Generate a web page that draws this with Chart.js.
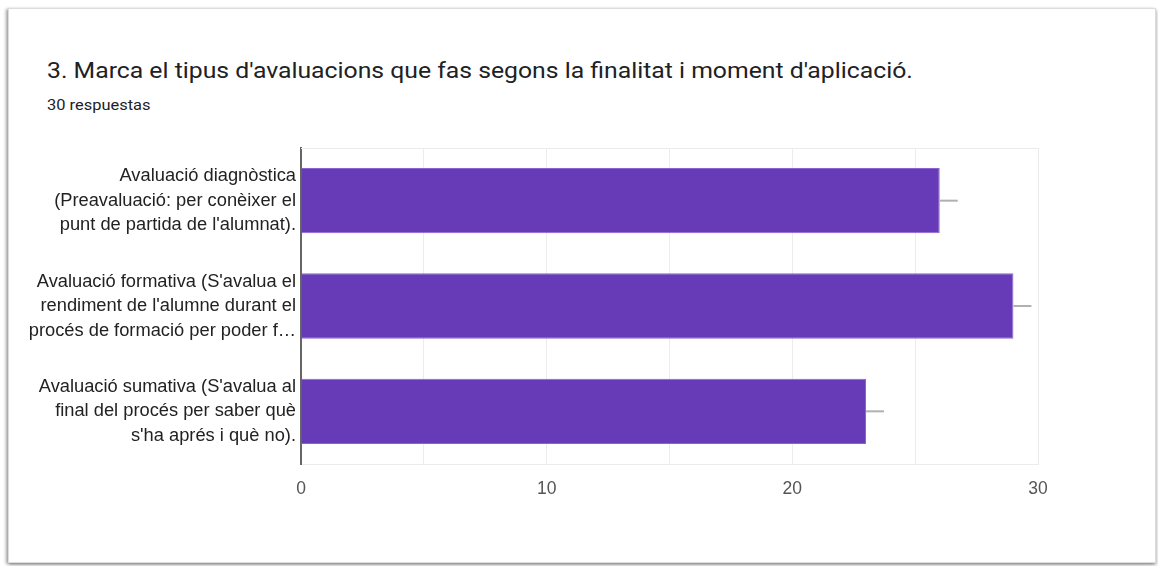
<!DOCTYPE html>
<html>
<head>
<meta charset="utf-8">
<script src="https://cdn.jsdelivr.net/npm/chart.js@4/dist/chart.umd.min.js"></script>
<style>
  html, body { margin:0; padding:0; background:#fff; width:1158px; height:566px; overflow:hidden; }
  #card { position:absolute; left:8px; top:8px; width:1146px; height:553px; background:#fff;
          border:1px solid #dadce0; box-shadow:-2px 1px 3px rgba(0,0,0,0.35), 1px 2px 3px rgba(0,0,0,0.25); }
  #title { position:absolute; left:47px; top:60px; font-family:Roboto, "Noto Sans", sans-serif; font-size:22px; line-height:22px; color:#202124; white-space:nowrap; transform:scaleX(1.125); transform-origin:0 0; }
  #sub { position:absolute; left:47px; top:97px; font-family:Roboto, "Noto Sans", sans-serif; font-size:15.5px; line-height:16px; color:#202124; white-space:nowrap; transform:scaleX(1.06); transform-origin:0 0; }
  #c { position:absolute; left:0; top:0; }
</style>
</head>
<body>
<div id="card"></div>
<div id="title">3. Marca el tipus d'avaluacions que fas segons la finalitat i moment d'aplicació.</div>
<div id="sub">30 respuestas</div>
<canvas id="c" width="1158" height="566"></canvas>
<script>
const categories = [
  ["Avaluació diagnòstica", "(Preavaluació: per conèixer el", "punt de partida de l'alumnat)."],
  ["Avaluació formativa (S'avalua el", "rendiment de l'alumne durant el", "procés de formació per poder f…"],
  ["Avaluació sumativa (S'avalua al", "final del procés per saber què", "s'ha aprés i què no)."]
];
const values = [26, 29, 23];
const xTickLabels = [0, 10, 20, 30];

const framePlugin = {
  id: 'frame',
  beforeDatasetsDraw(chart) {
    const {ctx, chartArea: a} = chart;
    ctx.save();
    ctx.strokeStyle = '#ebebeb';
    ctx.lineWidth = 1;
    ctx.beginPath();
    ctx.moveTo(a.left, a.top + 0.5);
    ctx.lineTo(a.right, a.top + 0.5);
    ctx.stroke();
    ctx.restore();
  }
};
const whiskerPlugin = {
  id: 'whisker',
  afterDatasetsDraw(chart) {
    const {ctx} = chart;
    const meta = chart.getDatasetMeta(0);
    ctx.save();
    ctx.strokeStyle = '#b0b0b0';
    ctx.lineWidth = 2;
    meta.data.forEach(el => {
      ctx.beginPath();
      ctx.moveTo(el.x, el.y);
      ctx.lineTo(el.x + 18, el.y);
      ctx.stroke();
    });
    ctx.restore();
  }
};

new Chart(document.getElementById('c'), {
  type: 'bar',
  data: {
    labels: categories,
    datasets: [{
      data: values,
      backgroundColor: '#673ab7',
      borderColor: '#8a63d2',
      borderWidth: 1,
      categoryPercentage: 1,
      barPercentage: 0.62
    }]
  },
  options: {
    indexAxis: 'y',
    responsive: false,
    animation: false,
    layout: { padding: { top: 148, right: 120, bottom: 42, left: 0 } },
    plugins: { legend: { display: false }, tooltip: { enabled: false } },
    scales: {
      x: {
        min: 0, max: 30,
        ticks: {
          stepSize: 5,
          padding: 15,
          color: '#555',
          font: { family: '"Liberation Sans", Arial, sans-serif', size: 17.5 },
          callback: v => xTickLabels.includes(v) ? String(v) : ''
        },
        grid: { color: '#ececec', drawTicks: false },
        border: { color: '#ececec' },
        afterFit: s => { s.height = 60; }
      },
      y: {
        ticks: {
          padding: 5,
          color: '#222',
          font: { family: '"Liberation Sans", Arial, sans-serif', size: 18.3, lineHeight: 1.34 }
        },
        grid: { display: false, drawTicks: false },
        border: { color: '#666', width: 2 },
        afterFit: s => { s.width = 301; }
      }
    }
  },
  plugins: [framePlugin, whiskerPlugin]
});
</script>
</body>
</html>
